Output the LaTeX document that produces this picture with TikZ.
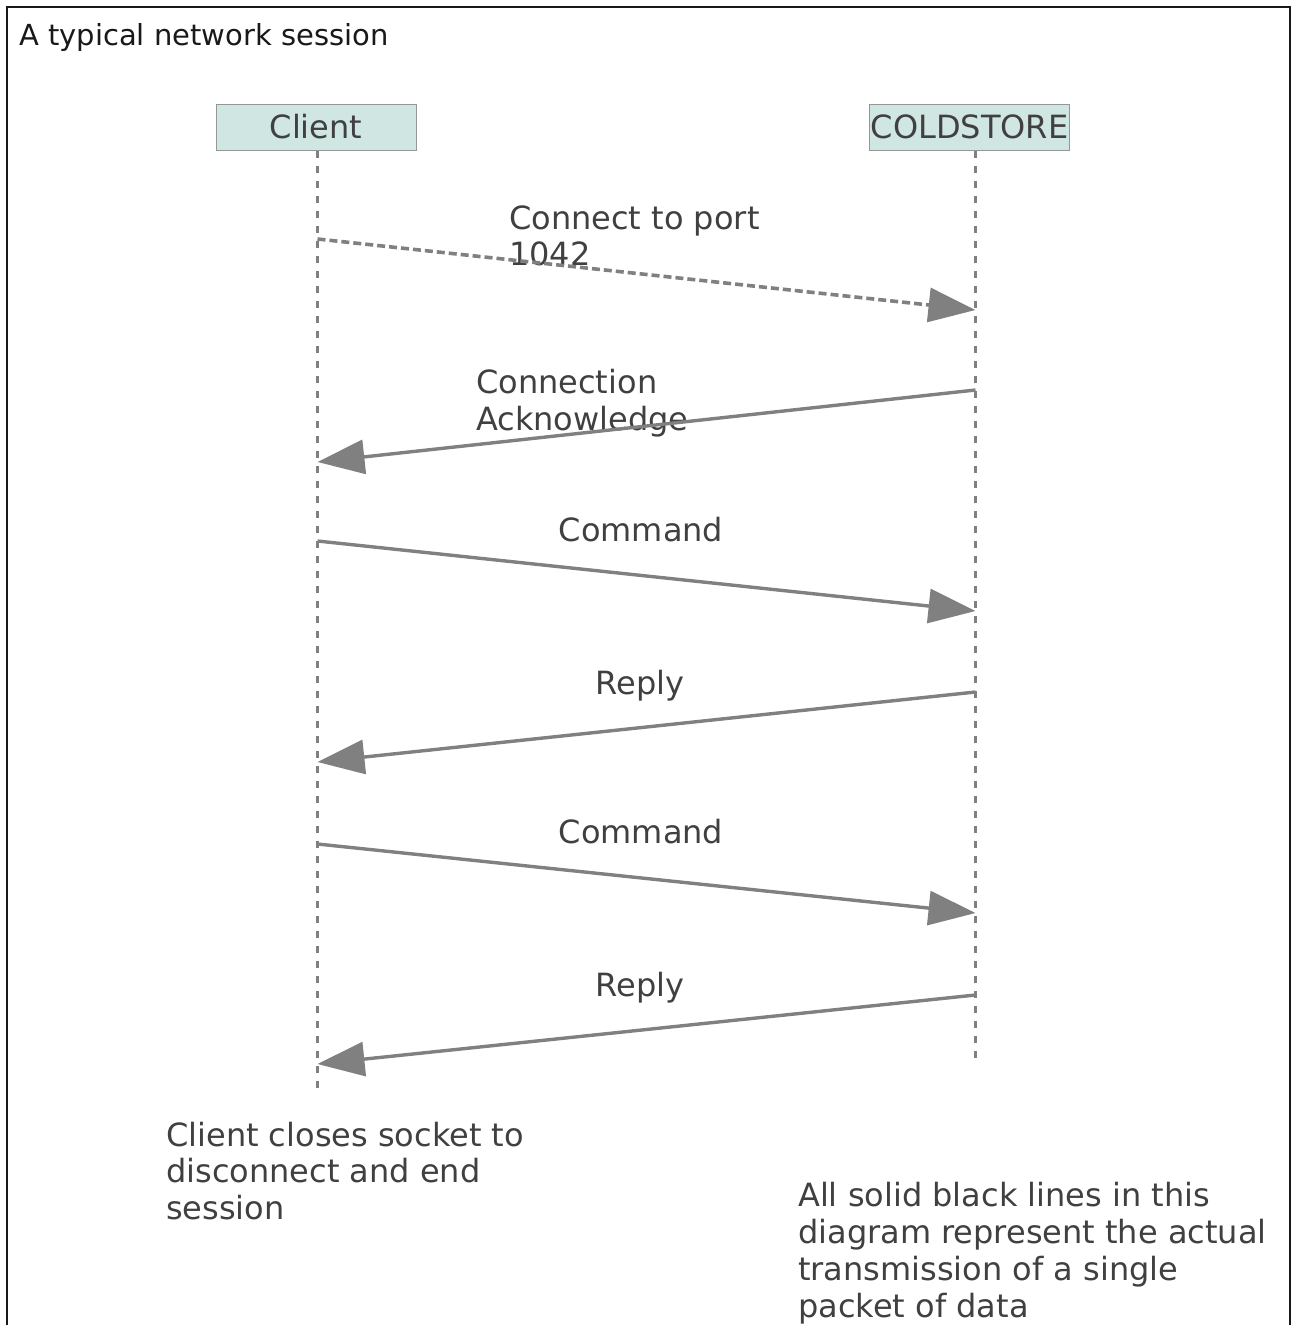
\documentclass[tikz,border=0pt]{standalone}
\usepackage{fontspec}
\setmainfont{DejaVu Sans}
\usetikzlibrary{arrows.meta}
\definecolor{boxfill}{RGB}{207,230,226}
\definecolor{boxline}{RGB}{150,150,150}
\definecolor{txt}{RGB}{64,64,64}
\definecolor{lgray}{RGB}{128,128,128}
\begin{document}
\begin{tikzpicture}[x=1pt,y=-1pt,
  lifebox/.style={draw=boxline, fill=boxfill, line width=1pt, minimum width=200pt,
    minimum height=46pt, inner sep=0pt, text=txt, font=\fontsize{32}{37}\selectfont},
  lifeline/.style={draw=lgray, line width=3.6pt, dash pattern=on 7pt off 8pt},
  msg/.style={draw=lgray, line width=3.4pt, -{Triangle[length=47pt,width=34pt]}},
  msgdash/.style={msg, line width=3.6pt, dash pattern=on 8pt off 4pt},
  lbl/.style={text=txt, inner sep=0pt, align=left, font=\fontsize{32}{37}\selectfont},
  frame/.style={draw=black!90, line width=1.5pt}]
\useasboundingbox (0,0) rectangle (1291,1325);
\draw[frame] (7,1345) -- (7,7) -- (1290,7) -- (1290,1345);
\node[text=black!90, inner sep=0pt, anchor=base west, font=\fontsize{29}{34}\selectfont] (title) at (19,45.5) {A typical network session};

\node[lifebox] (client) at (316,127) {Client};
\node[lifebox] (cold) at (969.5,127) {COLDSTORE};

\coordinate (cTop) at (317.5,151);
\coordinate (cBot) at (317.5,1090);
\coordinate (sTop) at (975.5,151);
\coordinate (sBot) at (975.5,1060);
\draw[lifeline] (cTop) -- (cBot);
\draw[lifeline] (sTop) -- (sBot);

\coordinate (c1) at (317.5,239);  \coordinate (s1) at (975.5,310);
\coordinate (s2) at (975.5,390);  \coordinate (c2) at (317.5,462);
\coordinate (c3) at (317.5,541);  \coordinate (s3) at (975.5,611);
\coordinate (s4) at (975.5,692);  \coordinate (c4) at (317.5,762);
\coordinate (c5) at (317.5,844);  \coordinate (s5) at (975.5,913);
\coordinate (s6) at (975.5,995);  \coordinate (c6) at (317.5,1064);

\node[lbl, anchor=base west, font=\fontsize{32}{36}\selectfont] (l1) at (509,265) {Connect to port\\1042};
\node[lbl, anchor=base west] (l2) at (476,430) {Connection\\Acknowledge};
\node[lbl, anchor=base] (l3) at (641,541) {Command};
\node[lbl, anchor=base] (l4) at (640,694) {Reply};
\node[lbl, anchor=base] (l5) at (641,843) {Command};
\node[lbl, anchor=base] (l6) at (640,996) {Reply};

\draw[msgdash] (c1) -- (s1);
\draw[msg] (s2) -- (c2);
\draw[msg] (c3) -- (s3);
\draw[msg] (s4) -- (c4);
\draw[msg] (c5) -- (s5);
\draw[msg] (s6) -- (c6);

\node[lbl, anchor=base west, font=\fontsize{32}{36.5}\selectfont] (close) at (166,1219) {Client closes socket to\\disconnect and end\\session};
\node[lbl, anchor=base west] (note) at (798,1317) {All solid black lines in this\\diagram represent the actual\\transmission of a single\\packet of data};
\end{tikzpicture}
\end{document}
